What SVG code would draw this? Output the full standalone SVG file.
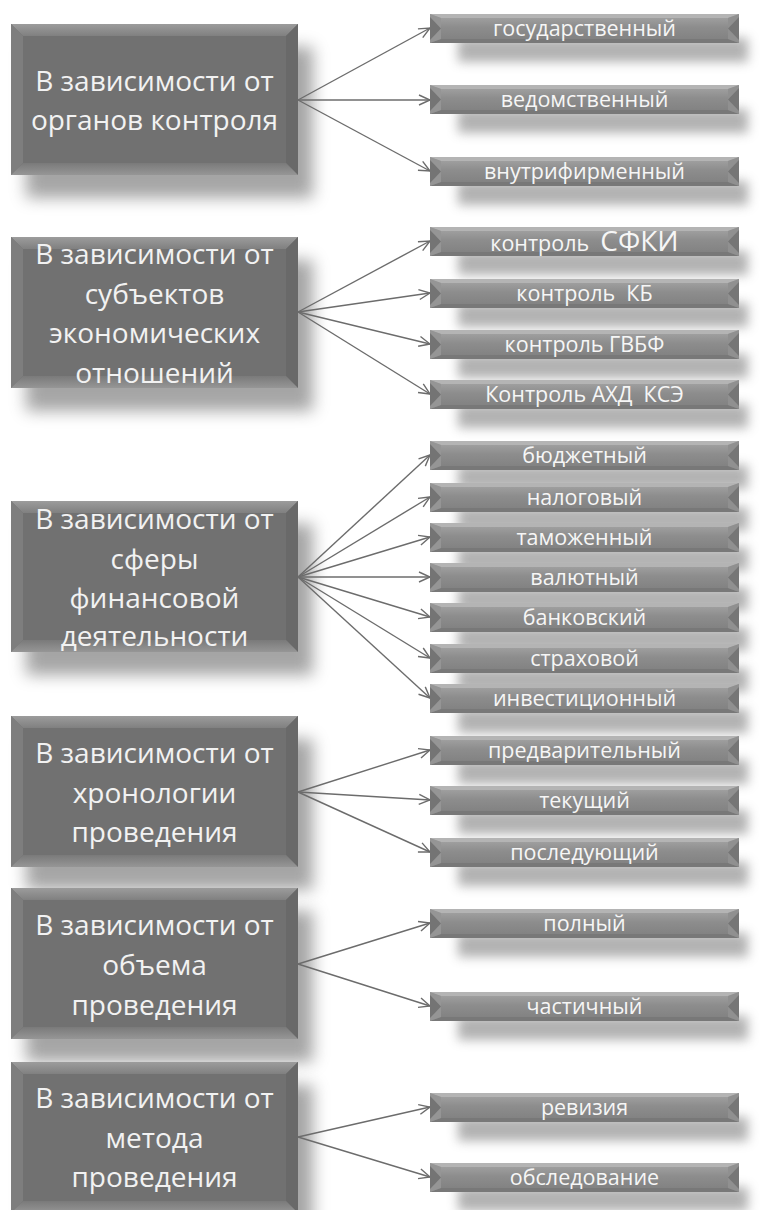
<svg xmlns="http://www.w3.org/2000/svg" xmlns:xlink="http://www.w3.org/1999/xlink" width="764" height="1210" viewBox="0 0 764 1210">
  <style>
    .lt { font-family: "Open Sans", "Noto Sans", "DejaVu Sans", sans-serif; font-size: 28px; fill: #f2f2f2; text-anchor: middle; }
    .rt { font-family: "Open Sans", "Noto Sans", "DejaVu Sans", sans-serif; font-size: 21.5px; fill: #f6f6f6; text-anchor: middle; }
    .big { font-size: 28px; }
    .link { fill: none; stroke: #6c6c6c; stroke-width: 1.4; marker-end: url(#arrow); }
    .lshadow { fill: #808080; opacity: 0.7; filter: url(#blurL); }
    .rshadow { fill: #929292; opacity: 0.7; filter: url(#blurR); }
  </style>
  <defs>
    <filter id="blurL" x="-20%" y="-30%" width="140%" height="160%">
      <feGaussianBlur stdDeviation="8"/>
    </filter>
    <filter id="blurR" x="-10%" y="-100%" width="120%" height="300%">
      <feGaussianBlur stdDeviation="5.5"/>
    </filter>
    <marker id="arrow" markerUnits="userSpaceOnUse" markerWidth="14" markerHeight="14" refX="12" refY="6" orient="auto">
      <path d="M1,1 L12,6 L1,11" fill="none" stroke="#6c6c6c" stroke-width="1.4"/>
    </marker>
    <linearGradient id="rbody" x1="0" y1="0" x2="0" y2="1">
      <stop offset="0" stop-color="#a6a6a6"/>
      <stop offset="0.45" stop-color="#8d8d8d"/>
      <stop offset="1" stop-color="#7f7f7f"/>
    </linearGradient>
    <linearGradient id="lbottom" x1="0" y1="0" x2="0" y2="1">
      <stop offset="0" stop-color="#7a7a7a"/>
      <stop offset="1" stop-color="#969696"/>
    </linearGradient>
    <linearGradient id="ltop" x1="0" y1="0" x2="0" y2="1">
      <stop offset="0" stop-color="#9c9c9c"/>
      <stop offset="1" stop-color="#808080"/>
    </linearGradient>
    <!-- bevelled category box, 287 x 151 -->
    <g id="lbox">
      <rect x="0" y="0" width="287" height="151" fill="#717171"/>
      <polygon points="0,0 287,0 275,12 12,12" fill="url(#ltop)"/>
      <polygon points="0,0 12,12 12,139 0,151" fill="#7e7e7e"/>
      <polygon points="287,0 287,151 275,139 275,12" fill="#696969"/>
      <polygon points="0,151 287,151 275,139 12,139" fill="url(#lbottom)"/>
    </g>
    <!-- bevelled item bar, 309 x 29 -->
    <g id="rbox">
      <rect x="0" y="0" width="309" height="29" fill="url(#rbody)"/>
      <polygon points="0,0 309,0 298,4 11,4" fill="#b4b4b4"/>
      <polygon points="0,29 309,29 298,25 11,25" fill="#787878"/>
      <polygon points="0,0 11,4 11,25 0,29" fill="#959595"/>
      <polygon points="0,3 11,14.5 0,26" fill="#747474"/>
      <polygon points="309,0 298,4 298,25 309,29" fill="#909090"/>
      <polygon points="309,3 298,14.5 309,26" fill="#767676"/>
    </g>
  </defs>

  <rect width="764" height="1210" fill="#ffffff"/>

  <!-- soft drop shadows -->
  <g id="shadows">
    <rect class="lshadow" x="26" y="47" width="287" height="151"/>
    <rect class="lshadow" x="26" y="260" width="287" height="151"/>
    <rect class="lshadow" x="26" y="524" width="287" height="151"/>
    <rect class="lshadow" x="26" y="739" width="287" height="151"/>
    <rect class="lshadow" x="26" y="911" width="287" height="151"/>
    <rect class="lshadow" x="26" y="1085" width="287" height="151"/>

    <rect class="rshadow" x="458" y="38" width="290" height="24"/>
    <rect class="rshadow" x="458" y="109" width="290" height="24"/>
    <rect class="rshadow" x="458" y="181" width="290" height="24"/>

    <rect class="rshadow" x="458" y="251" width="290" height="24"/>
    <rect class="rshadow" x="458" y="303" width="290" height="24"/>
    <rect class="rshadow" x="458" y="354" width="290" height="24"/>
    <rect class="rshadow" x="458" y="404" width="290" height="24"/>

    <rect class="rshadow" x="458" y="465" width="290" height="24"/>
    <rect class="rshadow" x="458" y="507" width="290" height="24"/>
    <rect class="rshadow" x="458" y="547" width="290" height="24"/>
    <rect class="rshadow" x="458" y="587" width="290" height="24"/>
    <rect class="rshadow" x="458" y="627" width="290" height="24"/>
    <rect class="rshadow" x="458" y="668" width="290" height="24"/>
    <rect class="rshadow" x="458" y="709" width="290" height="24"/>

    <rect class="rshadow" x="458" y="760" width="290" height="24"/>
    <rect class="rshadow" x="458" y="810" width="290" height="24"/>
    <rect class="rshadow" x="458" y="862" width="290" height="24"/>

    <rect class="rshadow" x="458" y="933" width="290" height="24"/>
    <rect class="rshadow" x="458" y="1016" width="290" height="24"/>

    <rect class="rshadow" x="458" y="1117" width="290" height="24"/>
    <rect class="rshadow" x="458" y="1187" width="290" height="24"/>
  </g>

  <!-- connectors -->
  <g id="connectors">
    <line class="link" x1="298" y1="100" x2="430" y2="28"/>
    <line class="link" x1="298" y1="100" x2="430" y2="100"/>
    <line class="link" x1="298" y1="100" x2="430" y2="171"/>

    <line class="link" x1="298" y1="312" x2="430" y2="241"/>
    <line class="link" x1="298" y1="312" x2="430" y2="293"/>
    <line class="link" x1="298" y1="312" x2="430" y2="344"/>
    <line class="link" x1="298" y1="312" x2="430" y2="394"/>

    <line class="link" x1="298" y1="577" x2="430" y2="455"/>
    <line class="link" x1="298" y1="577" x2="430" y2="497"/>
    <line class="link" x1="298" y1="577" x2="430" y2="537"/>
    <line class="link" x1="298" y1="577" x2="430" y2="577"/>
    <line class="link" x1="298" y1="577" x2="430" y2="617"/>
    <line class="link" x1="298" y1="577" x2="430" y2="658"/>
    <line class="link" x1="298" y1="577" x2="430" y2="698"/>

    <line class="link" x1="298" y1="792" x2="430" y2="750"/>
    <line class="link" x1="298" y1="792" x2="430" y2="800"/>
    <line class="link" x1="298" y1="792" x2="430" y2="852"/>

    <line class="link" x1="298" y1="964" x2="430" y2="923"/>
    <line class="link" x1="298" y1="964" x2="430" y2="1006"/>

    <line class="link" x1="298" y1="1137" x2="430" y2="1107"/>
    <line class="link" x1="298" y1="1137" x2="430" y2="1177"/>
  </g>

  <!-- category: control bodies -->
  <g id="cat-organs">
    <use xlink:href="#lbox" x="11" y="24"/>
    <text class="lt" x="154.5" y="91">В зависимости от</text>
    <text class="lt" x="154.5" y="130">органов контроля</text>
  </g>
  <g id="item-gos">
    <use xlink:href="#rbox" x="430" y="14"/>
    <text class="rt" x="584.5" y="36">государственный</text>
  </g>
  <g id="item-ved">
    <use xlink:href="#rbox" x="430" y="85"/>
    <text class="rt" x="584.5" y="107">ведомственный</text>
  </g>
  <g id="item-vnutr">
    <use xlink:href="#rbox" x="430" y="157"/>
    <text class="rt" x="584.5" y="179">внутрифирменный</text>
  </g>

  <!-- category: subjects of economic relations -->
  <g id="cat-subjects">
    <use xlink:href="#lbox" x="11" y="237"/>
    <text class="lt" x="154.5" y="264">В зависимости от</text>
    <text class="lt" x="154.5" y="303.5">субъектов</text>
    <text class="lt" x="154.5" y="343">экономических</text>
    <text class="lt" x="154.5" y="382.5">отношений</text>
  </g>
  <g id="item-sfki">
    <use xlink:href="#rbox" x="430" y="227"/>
    <text class="rt" x="584.5" y="251" xml:space="preserve">контроль  <tspan class="big">СФКИ</tspan></text>
  </g>
  <g id="item-kb">
    <use xlink:href="#rbox" x="430" y="279"/>
    <text class="rt" x="584.5" y="301" xml:space="preserve">контроль  КБ</text>
  </g>
  <g id="item-gvbf">
    <use xlink:href="#rbox" x="430" y="330"/>
    <text class="rt" x="584.5" y="352">контроль ГВБФ</text>
  </g>
  <g id="item-ahd">
    <use xlink:href="#rbox" x="430" y="380"/>
    <text class="rt" x="584.5" y="402" xml:space="preserve">Контроль АХД  КСЭ</text>
  </g>

  <!-- category: sphere of financial activity -->
  <g id="cat-sphere">
    <use xlink:href="#lbox" x="11" y="501"/>
    <text class="lt" x="154.5" y="529">В зависимости от</text>
    <text class="lt" x="154.5" y="568.5">сферы</text>
    <text class="lt" x="154.5" y="608">финансовой</text>
    <text class="lt" x="154.5" y="646">деятельности</text>
  </g>
  <g id="item-budget">
    <use xlink:href="#rbox" x="430" y="441"/>
    <text class="rt" x="584.5" y="463">бюджетный</text>
  </g>
  <g id="item-tax">
    <use xlink:href="#rbox" x="430" y="483"/>
    <text class="rt" x="584.5" y="505">налоговый</text>
  </g>
  <g id="item-customs">
    <use xlink:href="#rbox" x="430" y="523"/>
    <text class="rt" x="584.5" y="545">таможенный</text>
  </g>
  <g id="item-currency">
    <use xlink:href="#rbox" x="430" y="563"/>
    <text class="rt" x="584.5" y="585">валютный</text>
  </g>
  <g id="item-bank">
    <use xlink:href="#rbox" x="430" y="603"/>
    <text class="rt" x="584.5" y="625">банковский</text>
  </g>
  <g id="item-insurance">
    <use xlink:href="#rbox" x="430" y="644"/>
    <text class="rt" x="584.5" y="666">страховой</text>
  </g>
  <g id="item-invest">
    <use xlink:href="#rbox" x="430" y="684"/>
    <text class="rt" x="584.5" y="706">инвестиционный</text>
  </g>

  <!-- category: chronology -->
  <g id="cat-chrono">
    <use xlink:href="#lbox" x="11" y="716"/>
    <text class="lt" x="154.5" y="763">В зависимости от</text>
    <text class="lt" x="154.5" y="802.5">хронологии</text>
    <text class="lt" x="154.5" y="842">проведения</text>
  </g>
  <g id="item-prelim">
    <use xlink:href="#rbox" x="430" y="736"/>
    <text class="rt" x="584.5" y="758">предварительный</text>
  </g>
  <g id="item-current">
    <use xlink:href="#rbox" x="430" y="786"/>
    <text class="rt" x="584.5" y="808">текущий</text>
  </g>
  <g id="item-subsequent">
    <use xlink:href="#rbox" x="430" y="838"/>
    <text class="rt" x="584.5" y="860">последующий</text>
  </g>

  <!-- category: scope -->
  <g id="cat-scope">
    <use xlink:href="#lbox" x="11" y="888"/>
    <text class="lt" x="154.5" y="935">В зависимости от</text>
    <text class="lt" x="154.5" y="975">объема</text>
    <text class="lt" x="154.5" y="1015">проведения</text>
  </g>
  <g id="item-full">
    <use xlink:href="#rbox" x="430" y="909"/>
    <text class="rt" x="584.5" y="931">полный</text>
  </g>
  <g id="item-partial">
    <use xlink:href="#rbox" x="430" y="992"/>
    <text class="rt" x="584.5" y="1014">частичный</text>
  </g>

  <!-- category: method -->
  <g id="cat-method">
    <use xlink:href="#lbox" x="11" y="1062"/>
    <text class="lt" x="154.5" y="1108">В зависимости от</text>
    <text class="lt" x="154.5" y="1147.5">метода</text>
    <text class="lt" x="154.5" y="1187">проведения</text>
  </g>
  <g id="item-revision">
    <use xlink:href="#rbox" x="430" y="1093"/>
    <text class="rt" x="584.5" y="1115">ревизия</text>
  </g>
  <g id="item-survey">
    <use xlink:href="#rbox" x="430" y="1163"/>
    <text class="rt" x="584.5" y="1185">обследование</text>
  </g>
</svg>
